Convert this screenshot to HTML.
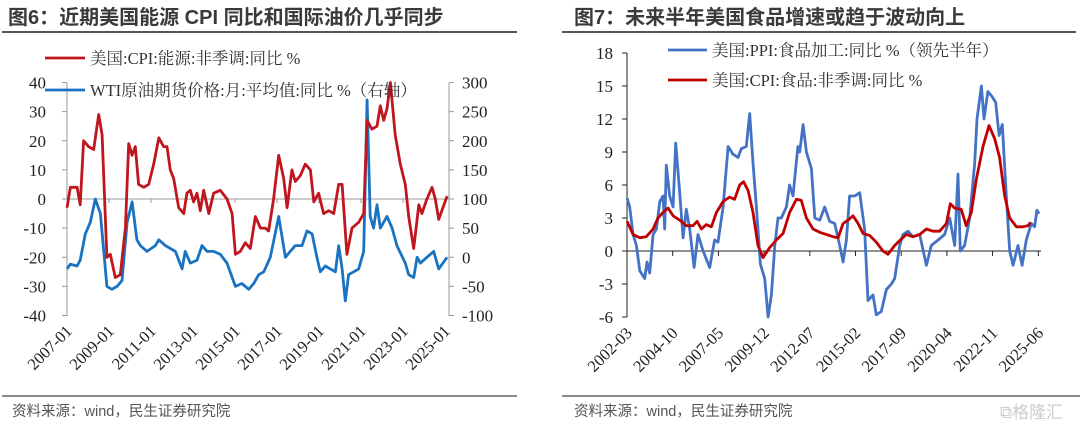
<!DOCTYPE html>
<html><head><meta charset="utf-8"><style>
body{margin:0;background:#fff;width:1080px;height:434px;overflow:hidden}
svg{display:block}
.t{font-family:"Liberation Sans","Noto Sans CJK SC",sans-serif;font-weight:bold;font-size:20px;fill:#3a3a3a}
.s{font-family:"Liberation Sans","Noto Sans CJK SC",sans-serif;font-size:14.5px;fill:#555}
.l{font-family:"Liberation Serif","Noto Serif CJK SC",serif;font-size:16.5px;fill:#333}
.k{font-family:"Liberation Serif","Noto Serif CJK SC",serif;font-size:17px;fill:#222}
.x{font-family:"Liberation Serif","Noto Serif CJK SC",serif;font-size:16.5px;fill:#222}
</style></head><body>
<svg id="c" width="1080" height="434">
<text class="t" x="8" y="24">图6：近期美国能源 CPI 同比和国际油价几乎同步</text>
<line x1="2" y1="32" x2="517" y2="32" stroke="#555" stroke-width="2"/>
<text class="t" x="574" y="24">图7：未来半年美国食品增速或趋于波动向上</text>
<line x1="562" y1="32" x2="1076" y2="32" stroke="#555" stroke-width="2"/>
<line x1="2" y1="396" x2="517" y2="396" stroke="#666" stroke-width="1.5"/>
<line x1="562" y1="396" x2="1080" y2="396" stroke="#666" stroke-width="1.5"/>
<text class="s" x="12" y="416">资料来源：wind，民生证券研究院</text>
<text class="s" x="574" y="416">资料来源：wind，民生证券研究院</text>
<text x="1000" y="418" font-family="Liberation Sans,Noto Sans CJK SC,sans-serif" font-size="17" fill="#ccc">⧉格隆汇</text>
<g id="L"></g><g id="R"></g>
</svg>
<script>
// Left chart data
const cpiEnergyDates=[2007.0,2007.16,2007.48,2007.63,2007.79,2008.03,2008.27,2008.51,2008.67,2008.9,2009.06,2009.3,2009.54,2009.78,2009.94,2010.1,2010.25,2010.41,2010.65,2010.89,2011.13,2011.37,2011.6,2011.76,2011.92,2012.08,2012.32,2012.56,2012.71,2012.87,2013.03,2013.19,2013.35,2013.51,2013.75,2013.98,2014.3,2014.62,2014.86,2015.02,2015.25,2015.49,2015.73,2015.97,2016.21,2016.44,2016.6,2016.84,2017.08,2017.32,2017.48,2017.71,2017.87,2018.11,2018.35,2018.59,2018.75,2018.98,2019.22,2019.46,2019.7,2019.94,2020.1,2020.33,2020.57,2020.89,2021.13,2021.29,2021.52,2021.76,2021.92,2022.08,2022.24,2022.4,2022.63,2022.87,2023.11,2023.27,2023.51,2023.75,2023.9,2024.14,2024.38,2024.54,2024.7,2025.1];
const cpiEnergyValues=[-3,4,4,-2,20,18,17,29,22,-20,-19,-27,-26,-10,19,15,18,5,4,5,12,21,18,18,10,7,-3,-5,2,3,-1,2,-4,3,-5,2,3,0,-5,-19,-18,-15,-17,-6,-10,-10,-11,0,15,7,-3,10,6,8,12,10,-1,2,-5,-4,-5,5,5,-19,-10,-8,-5,27,24,25,32,27,31,40,22,12,5,-6,-17,-2,-5,0,4,0,-7,1];
const wtiDates=[2007.0,2007.16,2007.48,2007.63,2007.87,2008.11,2008.35,2008.59,2008.9,2009.14,2009.38,2009.62,2009.86,2010.1,2010.33,2010.49,2010.81,2011.21,2011.37,2011.68,2011.92,2012.16,2012.48,2012.63,2012.87,2013.19,2013.43,2013.67,2013.98,2014.3,2014.62,2015.02,2015.33,2015.65,2015.89,2016.13,2016.37,2016.68,2017.08,2017.4,2017.63,2017.87,2018.19,2018.43,2018.67,2018.9,2019.06,2019.3,2019.54,2019.78,2019.94,2020.1,2020.25,2020.41,2020.65,2020.89,2021.13,2021.29,2021.44,2021.6,2021.76,2021.92,2022.24,2022.48,2022.71,2023.11,2023.27,2023.51,2023.67,2023.83,2024.14,2024.46,2024.7,2025.1];
const wtiValues=[-20,-12,-15,-5,40,60,100,75,-50,-55,-50,-40,60,95,30,20,10,20,30,20,15,10,-20,10,-10,-5,20,10,10,5,-10,-50,-45,-55,-45,-30,-25,0,70,0,10,20,20,45,40,0,-25,-15,-20,-25,20,-20,-75,-30,-25,-20,10,270,70,50,90,50,70,50,20,-10,-30,-35,0,-10,0,10,-20,0];
const leftTicks=[40,30,20,10,0,-10,-20,-30,-40];
const rightTicks=[300,250,200,150,100,50,0,-50,-100];
const leftXLabels=["2007-01","2009-01","2011-01","2013-01","2015-01","2017-01","2019-01","2021-01","2023-01","2025-01"];
// Right chart data
const ppiDates=[2002.17,2002.32,2002.51,2002.70,2002.89,2003.17,2003.30,2003.45,2003.64,2003.83,2004.02,2004.20,2004.30,2004.39,2004.58,2004.77,2004.92,2005.11,2005.34,2005.52,2005.71,2005.96,2006.18,2006.47,2006.84,2007.12,2007.31,2007.60,2007.88,2008.16,2008.44,2008.63,2008.91,2009.10,2009.29,2009.48,2009.71,2009.95,2010.14,2010.33,2010.52,2010.70,2010.89,2011.18,2011.36,2011.55,2011.83,2011.93,2012.12,2012.31,2012.59,2012.78,2013.06,2013.34,2013.62,2013.91,2014.19,2014.38,2014.57,2014.75,2015.04,2015.32,2015.60,2015.79,2016.07,2016.26,2016.54,2016.83,2017.11,2017.30,2017.58,2017.77,2018.05,2018.33,2018.71,2019.09,2019.37,2019.75,2020.12,2020.41,2020.69,2020.88,2021.01,2021.25,2021.54,2021.82,2021.95,2022.20,2022.35,2022.57,2022.82,2023.01,2023.20,2023.38,2023.61,2023.80,2023.99,2024.27,2024.50,2024.74,2025.02,2025.21,2025.34,2025.46];
const ppiValues=[4.8,4.0,1.5,0.5,-1.8,-2.5,-1,-2,1.5,2,4.5,5,2,7.8,5,4,9.8,6,1.2,3.8,2,-1.5,1.5,0,-1.5,1,0.8,4,9.5,8.8,8.5,9.3,9.5,12.5,8,4,-1.2,-2.5,-6,-4,0.5,3,3,4,6,5,9.5,9,11.5,9,7.5,3,2.8,4,2.7,2.5,0.5,-1,1,5,5,5.3,2,-4.5,-4,-5.8,-5.5,-3.5,-3,-2.5,0.5,1.5,1.8,1.3,1.5,-1.3,0.5,1,1.5,3,0.5,7,0,0.5,3,8,12,15,12,14.5,14,13.5,10.5,11.5,5,0,-1.3,0.5,-1.3,1,2.5,2.2,3.7,3.4];
const cpiFoodDates=[2002.17,2002.51,2002.89,2003.26,2003.64,2003.92,2004.20,2004.49,2004.77,2005.15,2005.52,2005.90,2006.13,2006.37,2006.65,2006.94,2007.22,2007.60,2007.97,2008.25,2008.54,2008.76,2009.01,2009.29,2009.57,2009.86,2010.23,2010.61,2010.99,2011.36,2011.74,2012.02,2012.31,2012.68,2013.06,2013.44,2013.81,2014.10,2014.38,2014.66,2014.94,2015.23,2015.51,2015.89,2016.26,2016.64,2016.92,2017.30,2017.68,2017.96,2018.33,2018.71,2019.09,2019.46,2019.84,2020.22,2020.44,2020.69,2021.06,2021.34,2021.63,2021.91,2022.29,2022.63,2022.95,2023.23,2023.52,2023.80,2024.18,2024.55,2024.83,2024.98];
const cpiFoodValues=[2.7,1.5,1.2,1.3,2,3,3.5,3.9,3.2,2.8,2.3,2.3,2.7,2,2.4,2.2,3.5,4.5,4.9,4.7,6,6.3,5.5,3.5,0.5,-0.6,0.3,1,1.6,3.5,4.7,4.6,3,2,1.7,1.5,1.3,1.2,2.5,2.8,3.2,2.5,1.6,1.4,0.8,0,-0.3,0.5,1.1,1.5,1.3,1.5,2,1.8,1.8,2.5,4.3,3.9,3.8,2.3,3.5,6.5,9.5,11.4,10.2,8.5,5,3,2.2,2.2,2.3,2.6];
const rTicks=[18,15,12,9,6,3,0,-3,-6];
const rXLabels=["2002-03","2004-10","2007-05","2009-12","2012-07","2015-02","2017-09","2020-04","2022-11","2025-06"];

const NS="http://www.w3.org/2000/svg";
function mk(tag,attrs,parent,txt){const e=document.createElementNS(NS,tag);for(const k in attrs)e.setAttribute(k,attrs[k]);if(txt!==undefined)e.textContent=txt;parent.appendChild(e);return e;}
const L=document.getElementById('L'),R=document.getElementById('R');

const lx=t=>67+(t-2007)*21;
const ly=v=>199-v*(233/80);
const ry=v=>199-(v-100)*(233/400);
let e;
e=mk('line',{x1:67,y1:83,x2:67,y2:316,stroke:'#999','stroke-width':1},L);


e=mk('line',{x1:449,y1:83,x2:449,y2:316,stroke:'#999','stroke-width':1},L);


e=mk('line',{x1:67,y1:ly(0),x2:449,y2:ly(0),stroke:'#999','stroke-width':1},L);


leftTicks.forEach(v=>{
  mk('line',{x1:62,y1:ly(v),x2:67,y2:ly(v),stroke:'#999'},L);
  e=mk('text',{x:46,y:ly(v)+6,'text-anchor':'end',class:'k'},L,String(v));
  
  
});
rightTicks.forEach(v=>{
  mk('line',{x1:449,y1:ry(v),x2:454,y2:ry(v),stroke:'#999'},L);
  e=mk('text',{x:462,y:ry(v)+6,class:'k'},L,String(v));
  
  
});
leftXLabels.forEach((s,i)=>{
  const x=lx(2007+i*2);
  if(i>0)mk('line',{x1:x,y1:ly(0),x2:x,y2:ly(0)+4,stroke:'#999'},L);
  e=mk('text',{x:x+6,y:332,'text-anchor':'end',class:'x',transform:`rotate(-45 ${x+6} 332)`},L,s);
  
  
});
function path(dates,vals,fx,fy,color,w,parent,name){
  const d=dates.map((t,i)=>(i?'L':'M')+fx(t).toFixed(1)+','+fy(vals[i]).toFixed(1)).join('');
  const p=mk('path',{d:d,fill:'none',stroke:color,'stroke-width':w,'stroke-linejoin':'round'},parent);
  
  
}
path(wtiDates,wtiValues,lx,ry,'#1a73c0',2.8,L,'wti-oil-line');
path(cpiEnergyDates,cpiEnergyValues,lx,ly,'#c0161d',2.8,L,'cpi-energy-line');
mk('line',{x1:45,y1:58,x2:85,y2:58,stroke:'#c0161d','stroke-width':2.8},L);
e=mk('text',{x:90,y:64,class:'l'},L,'美国:CPI:能源:非季调:同比 %');


mk('line',{x1:45,y1:90,x2:85,y2:90,stroke:'#1a73c0','stroke-width':2.8},L);
e=mk('text',{x:90,y:96,class:'l'},L,'WTI原油期货价格:月:平均值:同比 %（右轴）');



const rx=t=>627+(t-2002.1667)*(45.7*12/31);
const rvy=v=>251-v*(264/24);
e=mk('line',{x1:627,y1:53,x2:627,y2:317,stroke:'#222','stroke-width':1},R);


e=mk('line',{x1:627,y1:rvy(0),x2:1041,y2:rvy(0),stroke:'#222','stroke-width':1},R);


rTicks.forEach(v=>{
  mk('line',{x1:622,y1:rvy(v),x2:627,y2:rvy(v),stroke:'#222'},R);
  e=mk('text',{x:613,y:rvy(v)+6,'text-anchor':'end',class:'k'},R,String(v));
  
  
});
rXLabels.forEach((s,i)=>{
  const x=627+i*45.7;
  if(i>0)mk('line',{x1:x,y1:rvy(0),x2:x,y2:rvy(0)+5,stroke:'#222'},R);
  e=mk('text',{x:x+6,y:334,'text-anchor':'end',class:'x',transform:`rotate(-45 ${x+6} 334)`},R,s);
  
  
});
path(ppiDates,ppiValues,rx,rvy,'#4472c4',2.8,R,'ppi-food-line');
path(cpiFoodDates,cpiFoodValues,rx,rvy,'#c00000',2.8,R,'cpi-food-line');
mk('line',{x1:668,y1:50,x2:707,y2:50,stroke:'#4472c4','stroke-width':2.8},R);
e=mk('text',{x:712,y:56,class:'l'},R,'美国:PPI:食品加工:同比 %（领先半年）');


mk('line',{x1:668,y1:80,x2:707,y2:80,stroke:'#c00000','stroke-width':2.8},R);
e=mk('text',{x:712,y:86,class:'l'},R,'美国:CPI:食品:非季调:同比 %');


</script>
</body></html>
